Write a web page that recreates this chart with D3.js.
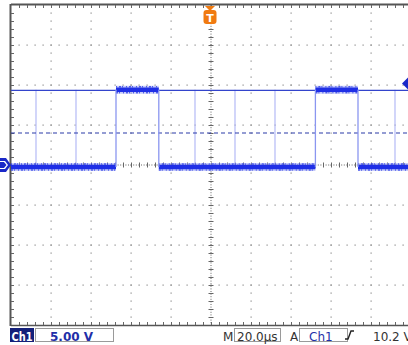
<!DOCTYPE html>
<html>
<head>
<meta charset="utf-8">
<script src="https://cdn.jsdelivr.net/npm/d3@7/dist/d3.min.js"></script>
<style>
  html, body { margin: 0; padding: 0; background: #fff; }
  svg { display: block; }
  text { font-family: "DejaVu Sans", sans-serif; }
</style>
</head>
<body>
<script>
// Scope capture: channel 1, 5.00 V/div, 20.0 µs/div, trigger on Ch1 rising at 10.2 V
const timeDivs = 10;          // horizontal divisions
const voltDivs = 8;           // vertical divisions
const usPerDiv = 20;          // µs per division
const voltsPerDiv = 5;        // V per division

const lowLevel = -0.25;       // V, trace level when the output is off
const highLevel = 9.4;        // V, trace level when the output is on
const highPulses = [[52.5, 73.9], [152.2, 173.5]];   // µs, start/end of the on-time
const ghostEdges = [12.5, 32.5, 92, 112, 132, 192];  // µs, faint persisted transitions
const triggerLevel = 10.2;    // V
const refLevel = 4.0;         // V, dashed reference line
const triggerTime = 100;      // µs

const statusCh = "Ch1";
const statusScale = "5.00 V";
const statusTimebase = "20.0µs";
const statusTrigSrc = "Ch1";
const statusTrigLevel = "10.2 V";

const W = 408, H = 345;
const leftX = 11, topY = 5;
const divPx = 40;

const x = d3.scaleLinear().domain([0, timeDivs * usPerDiv]).range([leftX, leftX + timeDivs * divPx]);
const y = d3.scaleLinear().domain([-voltDivs / 2 * voltsPerDiv, voltDivs / 2 * voltsPerDiv])
  .range([topY + voltDivs * divPx, topY]);

const svg = d3.select("body").append("svg").attr("width", W).attr("height", H);

const plot = svg.append("g");
plot.append("clipPath").attr("id", "screen")
  .append("rect").attr("x", leftX).attr("y", topY - 2).attr("width", W - leftX).attr("height", y(-20) - topY + 4);

const grid = plot.append("g").attr("clip-path", "url(#screen)");

// dotted graticule
const tMin = 0, tMax = timeDivs * usPerDiv;
const vMin = -20, vMax = 20;
const minorT = usPerDiv / 5, minorV = voltsPerDiv / 5;
const dotCol = "#8a8a8a";

for (let k = 1; k < timeDivs; k++) {
  if (k === timeDivs / 2) continue;
  const t = k * usPerDiv;
  d3.range(vMin + minorV, vMax, minorV).forEach(v => {
    grid.append("rect").attr("x", Math.round(x(t)) - 0.5).attr("y", Math.round(y(v)) - 0.5)
      .attr("width", 1.2).attr("height", 1.2).attr("fill", dotCol);
  });
}
for (let k = 1; k < voltDivs; k++) {
  if (k === voltDivs / 2) continue;
  const v = vMin + k * voltsPerDiv;
  d3.range(tMin + minorT, tMax, minorT).forEach(t => {
    grid.append("rect").attr("x", Math.round(x(t)) - 0.5).attr("y", Math.round(y(v)) - 0.5)
      .attr("width", 1.2).attr("height", 1.2).attr("fill", dotCol);
  });
}

// centre axes with fine dots and cross ticks
const cx = x(triggerTime), cy = y(0);
grid.append("line").attr("x1", cx).attr("x2", cx).attr("y1", y(vMax)).attr("y2", y(vMin))
  .attr("stroke", "#666").attr("stroke-width", 1).attr("stroke-dasharray", "1,1.6");
grid.append("line").attr("x1", x(tMin)).attr("x2", x(tMax)).attr("y1", cy).attr("y2", cy)
  .attr("stroke", "#666").attr("stroke-width", 1).attr("stroke-dasharray", "1,1.6");
d3.range(vMin + minorV, vMax, minorV).forEach(v => {
  grid.append("line").attr("x1", cx - 2.5).attr("x2", cx + 2.5).attr("y1", Math.round(y(v)) + 0.5).attr("y2", Math.round(y(v)) + 0.5)
    .attr("stroke", "#666").attr("stroke-width", 1);
});
d3.range(tMin + minorT, tMax, minorT).forEach(t => {
  grid.append("line").attr("y1", cy - 2.5).attr("y2", cy + 2.5).attr("x1", Math.round(x(t)) + 0.5).attr("x2", Math.round(x(t)) + 0.5)
    .attr("stroke", "#666").attr("stroke-width", 1);
});

// border with inward ticks
const border = plot.append("g");
border.append("line").attr("x1", leftX).attr("x2", W).attr("y1", topY - 0.5).attr("y2", topY - 0.5)
  .attr("stroke", "#555").attr("stroke-width", 2);
border.append("line").attr("x1", leftX).attr("x2", W).attr("y1", y(vMin) + 0.5).attr("y2", y(vMin) + 0.5)
  .attr("stroke", "#555").attr("stroke-width", 1.5);
border.append("line").attr("x1", leftX - 0.5).attr("x2", leftX - 0.5).attr("y1", topY - 1).attr("y2", y(vMin) + 1)
  .attr("stroke", "#555").attr("stroke-width", 2);
d3.range(tMin + minorT, tMax, minorT).forEach(t => {
  const xx = Math.round(x(t)) + 0.5;
  if (xx > W) return;
  border.append("line").attr("x1", xx).attr("x2", xx).attr("y1", topY).attr("y2", topY + 3)
    .attr("stroke", "#666");
  border.append("line").attr("x1", xx).attr("x2", xx).attr("y1", y(vMin) - 3).attr("y2", y(vMin))
    .attr("stroke", "#666");
});
d3.range(vMin + minorV, vMax, minorV).forEach(v => {
  const yy = Math.round(y(v)) + 0.5;
  border.append("line").attr("x1", leftX).attr("x2", leftX + 3).attr("y1", yy).attr("y2", yy)
    .attr("stroke", "#666");
});

// trace
const traceG = plot.append("g").attr("clip-path", "url(#screen)");
const traceCol = "#1f2fe6";

// faint persisted edges
ghostEdges.forEach(t => {
  traceG.append("line").attr("x1", x(t)).attr("x2", x(t)).attr("y1", y(highLevel)).attr("y2", y(lowLevel))
    .attr("stroke", "#b4baf6").attr("stroke-width", 1.2);
});

// dashed reference level
traceG.append("line").attr("x1", x(tMin)).attr("x2", x(tMax)).attr("y1", y(refLevel)).attr("y2", y(refLevel))
  .attr("stroke", "#2b3aa8").attr("stroke-width", 1.2).attr("stroke-dasharray", "4,3");

// persisted high level across the screen
traceG.append("line").attr("x1", x(tMin)).attr("x2", x(tMax)).attr("y1", y(highLevel) + 0.5).attr("y2", y(highLevel) + 0.5)
  .attr("stroke", "#3344cc").attr("stroke-width", 1.3);

// low segments between the pulses
const lowSegs = [];
let prev = tMin;
highPulses.forEach(([a, b]) => { lowSegs.push([prev, a]); prev = b; });
lowSegs.push([prev, tMax]);

function band(seg, level) {
  // noisy band: a soft halo and a dense core
  traceG.append("line").attr("x1", x(seg[0])).attr("x2", x(seg[1]))
    .attr("y1", y(level)).attr("y2", y(level))
    .attr("stroke", "#8f9af2").attr("stroke-width", 8).attr("stroke-opacity", 0.5);
  traceG.append("line").attr("x1", x(seg[0])).attr("x2", x(seg[1]))
    .attr("y1", y(level)).attr("y2", y(level))
    .attr("stroke", traceCol).attr("stroke-width", 4.5);
  traceG.append("line").attr("x1", x(seg[0])).attr("x2", x(seg[1]))
    .attr("y1", y(level) - 3).attr("y2", y(level) - 3)
    .attr("stroke", traceCol).attr("stroke-width", 1).attr("stroke-dasharray", "1,2,2,1,1,3");
  traceG.append("line").attr("x1", x(seg[0])).attr("x2", x(seg[1]))
    .attr("y1", y(level) + 3).attr("y2", y(level) + 3)
    .attr("stroke", traceCol).attr("stroke-width", 1).attr("stroke-dasharray", "2,1,1,3,1,2");
}
lowSegs.forEach(s => band(s, lowLevel));
highPulses.forEach(s => band(s, highLevel));

// the actual edges of the captured pulses
highPulses.forEach(([a, b]) => {
  [a, b].forEach(t => {
    traceG.append("line").attr("x1", x(t)).attr("x2", x(t)).attr("y1", y(highLevel)).attr("y2", y(lowLevel))
      .attr("stroke", "#8a96f0").attr("stroke-width", 1.3);
  });
});

// channel ground marker
const gy = y(0);
svg.append("path")
  .attr("d", `M0,${gy - 7} L6,${gy - 7} L11,${gy} L6,${gy + 7} L0,${gy + 7} Z`)
  .attr("fill", "#1a28c8");
svg.append("path")
  .attr("d", `M0,${gy - 4} L5,${gy - 4} L8,${gy} L5,${gy + 4} L0,${gy + 4} Z`)
  .attr("fill", "#ffffff");
svg.append("path")
  .attr("d", `M0,${gy - 3} L4,${gy - 3} L6.5,${gy} L4,${gy + 3} L0,${gy + 3} Z`)
  .attr("fill", "#1a28c8");

// trigger level marker on the right
const ty = y(triggerLevel);
svg.append("path").attr("d", `M402,${ty} L408,${ty - 6} L408,${ty + 6} Z`).attr("fill", "#1a28c8");

// trigger position marker
const tx = x(triggerTime) - 1;
svg.append("path").attr("d", `M${tx - 5},${topY + 1} L${tx + 5},${topY + 1} L${tx},${topY + 6} Z`).attr("fill", "#f07a10");
svg.append("rect").attr("x", tx - 6.5).attr("y", topY + 5).attr("width", 13).attr("height", 14).attr("rx", 3)
  .attr("fill", "#f07a10");
svg.append("text").attr("x", tx).attr("y", topY + 16.5).attr("text-anchor", "middle")
  .attr("font-size", 11).attr("font-weight", "bold").attr("fill", "#fff").text("T");

// status bar
const sb = svg.append("g");
const sy = 340.5;
sb.append("rect").attr("x", 10).attr("y", 328).attr("width", 24).attr("height", 14).attr("fill", "#14207a");
sb.append("text").attr("x", 11.5).attr("y", sy).attr("font-size", 12).attr("font-weight", "bold")
  .attr("textLength", 21).attr("lengthAdjust", "spacingAndGlyphs").attr("fill", "#fff").text(statusCh);
sb.append("rect").attr("x", 35.5).attr("y", 328.5).attr("width", 78).attr("height", 13).attr("fill", "#fff").attr("stroke", "#9a9a9a");
sb.append("text").attr("x", 50).attr("y", sy).attr("font-size", 12).attr("font-weight", "bold").attr("fill", "#1f2fa8").text(statusScale);

sb.append("text").attr("x", 223).attr("y", sy).attr("font-size", 12).attr("fill", "#333").text("M");
sb.append("rect").attr("x", 234.5).attr("y", 328.5).attr("width", 46).attr("height", 13).attr("fill", "#fff").attr("stroke", "#9a9a9a");
sb.append("text").attr("x", 237).attr("y", sy).attr("font-size", 12).attr("fill", "#333").text(statusTimebase);
sb.append("text").attr("x", 290).attr("y", sy).attr("font-size", 12).attr("fill", "#333").text("A");
sb.append("rect").attr("x", 299.5).attr("y", 328.5).attr("width", 48).attr("height", 13).attr("fill", "#fff").attr("stroke", "#9a9a9a");
sb.append("text").attr("x", 309).attr("y", sy).attr("font-size", 12).attr("fill", "#1f2fa8").text(statusTrigSrc);
// rising-edge glyph
sb.append("path").attr("d", "M345,339 L348,339 L351,331 L354,331").attr("fill", "none").attr("stroke", "#222").attr("stroke-width", 1.4);
// the screen edge cuts this reading short, as on the instrument's capture
sb.append("text").attr("x", 373).attr("y", sy).attr("font-size", 12).attr("fill", "#333").text(statusTrigLevel);
</script>
</body>
</html>
